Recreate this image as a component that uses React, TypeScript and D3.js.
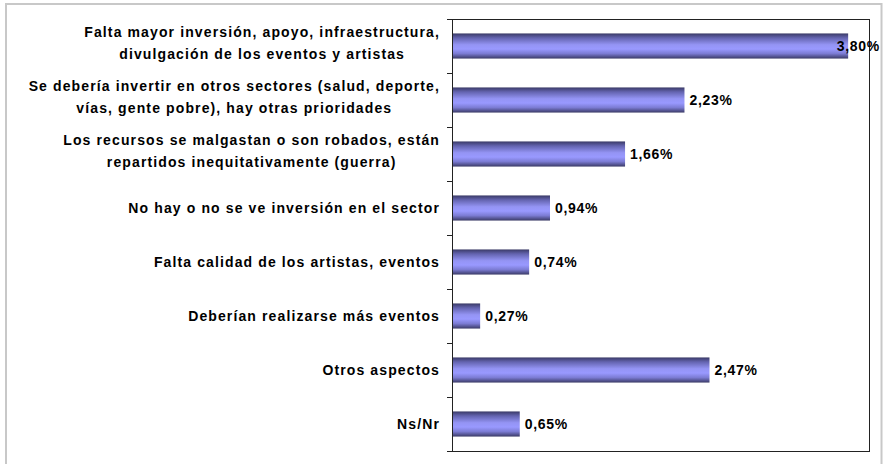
import React, { useEffect, useRef } from "react";
import * as d3 from "d3";

const categories: string[] = [
  "Falta mayor inversión, apoyo, infraestructura,\ndivulgación de los eventos y artistas",
  "Se debería invertir en otros sectores (salud, deporte,\nvías, gente pobre), hay otras prioridades",
  "Los recursos se malgastan o son robados, están\nrepartidos inequitativamente (guerra)",
  "No hay o no se ve inversión en el sector",
  "Falta calidad de los artistas, eventos",
  "Deberían realizarse más eventos",
  "Otros aspectos",
  "Ns/Nr",
];
const values: number[] = [3.8, 2.23, 1.66, 0.94, 0.74, 0.27, 2.47, 0.65];
const valueLabels: string[] = ["3,80%", "2,23%", "1,66%", "0,94%", "0,74%", "0,27%", "2,47%", "0,65%"];
const xDomain: [number, number] = [0, 4];

const W = 883;
const H = 464;
const plot = { left: 452, top: 19, right: 869, bottom: 451 };
const FONT = "'Liberation Sans', Arial, sans-serif";

export default function App() {
  const ref = useRef<SVGSVGElement | null>(null);

  useEffect(() => {
    const svg = d3.select(ref.current);
    svg.selectAll("*").remove();

    const defs = svg.append("defs");
    const grad = defs
      .append("linearGradient")
      .attr("id", "barGrad")
      .attr("x1", 0)
      .attr("y1", 0)
      .attr("x2", 0)
      .attr("y2", 1);
    [
      [0, "#3a3a66"],
      [0.18, "#6464b0"],
      [0.45, "#9494f4"],
      [0.62, "#9999ff"],
      [0.8, "#7c7cd4"],
      [1, "#3a3a66"],
    ].forEach(([o, c]) => grad.append("stop").attr("offset", o as number).attr("stop-color", c as string));

    svg.append("rect").attr("width", W).attr("height", H).attr("fill", "#ffffff");

    // outer chart frame
    svg
      .append("rect")
      .attr("x", 6)
      .attr("y", 4)
      .attr("width", 875.5)
      .attr("height", 480)
      .attr("fill", "none")
      .attr("stroke", "#c8c8c8")
      .attr("stroke-width", 2);

    const x = d3.scaleLinear().domain(xDomain).range([plot.left, plot.right]);
    const y = d3
      .scaleBand<number>()
      .domain(d3.range(categories.length))
      .range([plot.top, plot.bottom])
      .paddingInner(1.15 / 2.15)
      .paddingOuter(1.15 / 4.3);

    const step = y.step();
    const bw = y.bandwidth();

    // bars
    svg
      .append("g")
      .selectAll("rect")
      .data(values)
      .join("rect")
      .attr("x", x(0))
      .attr("y", (_d, i) => y(i)!)
      .attr("width", (d) => x(d) - x(0))
      .attr("height", bw)
      .attr("fill", "url(#barGrad)");

    // plot frame
    svg
      .append("rect")
      .attr("x", plot.left + 0.5)
      .attr("y", plot.top + 0.5)
      .attr("width", plot.right - plot.left)
      .attr("height", plot.bottom - plot.top)
      .attr("fill", "none")
      .attr("stroke", "#222")
      .attr("stroke-width", 1);

    // ticks at band boundaries
    const tickYs = d3.range(categories.length + 1).map((i) => plot.top + i * step);
    svg
      .append("g")
      .selectAll("line")
      .data(tickYs)
      .join("line")
      .attr("x1", plot.left - 5)
      .attr("x2", plot.left + 0.5)
      .attr("y1", (d) => Math.round(d) + 0.5)
      .attr("y2", (d) => Math.round(d) + 0.5)
      .attr("stroke", "#222");

    // category labels
    const labelRight = 440;
    categories.forEach((cat, i) => {
      const lines = cat.split("\n");
      const c = y(i)! + bw / 2;
      const g = svg.append("g");
      const texts = lines.map((ln, j) => {
        const base = lines.length === 1 ? c + 4.5 : c - 9 + j * 22;
        return g
          .append("text")
          .attr("y", base)
          .attr("font-family", FONT)
          .attr("font-weight", "bold")
          .attr("font-size", 14)
          .attr("letter-spacing", 1.12)
          .attr("fill", "#000")
          .text(ln);
      });
      const widths = texts.map((t) => (t.node() as SVGTextElement).getComputedTextLength());
      const maxW = d3.max(widths) || 0;
      const centerX = labelRight - maxW / 2;
      texts.forEach((t, j) => t.attr("x", centerX - widths[j] / 2));
    });

    // value labels
    values.forEach((v, i) => {
      const c = y(i)! + bw / 2;
      const t = svg
        .append("text")
        .attr("y", c + 5)
        .attr("font-family", FONT)
        .attr("font-weight", "bold")
        .attr("font-size", 14)
        .attr("letter-spacing", 0.7)
        .attr("fill", "#000")
        .text(valueLabels[i]);
      const w = (t.node() as SVGTextElement).getComputedTextLength();
      let tx = x(v) + 5;
      if (tx + w > 880) tx = 880 - w;
      t.attr("x", tx);
    });
  }, []);

  return (
    <svg
      ref={ref}
      width={W}
      height={H}
      style={{ position: "absolute", left: 0, top: 0, display: "block" }}
    />
  );
}
